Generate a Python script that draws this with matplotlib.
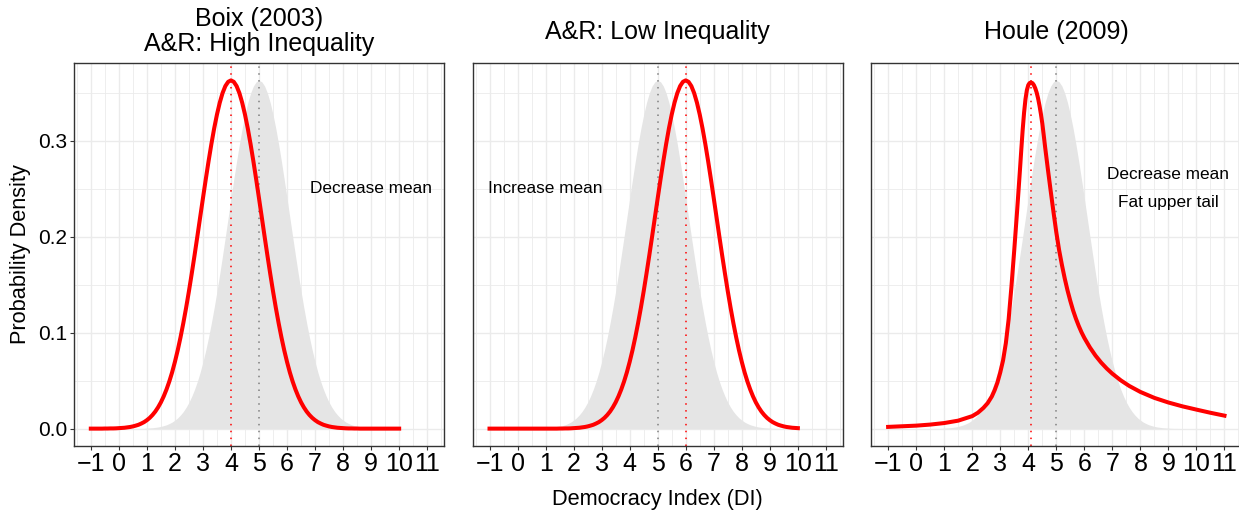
import matplotlib.pyplot as plt
from matplotlib.ticker import MultipleLocator

plt.rcParams['font.family'] = ['Liberation Sans', 'DejaVu Sans']

# Democracy Index grid (-1 to 10, step 0.1) for the bell curves
di = [round(-1 + 0.1 * k, 1) for k in range(111)]

# grey reference density (centred on 5)
baseline = [0, 0, 0, 0, 0, 0, 0, 0, 0, 0, 0, 0, 0, 0, 0,
            .0001, .0001, .0002, .0002, .0003, .0005, .0007, .0009, .0013, .0017,
            .0023, .0031, .0040, .0053, .0068, .0088, .0112, .0142, .0178, .0222,
            .0274, .0336, .0408, .0491, .0586, .0695, .0816, .0951, .1099, .1259,
            .1431, .1614, .1804, .2000, .2200, .2399, .2595, .2784, .2962, .3126,
            .3271, .3395, .3495, .3568, .3612, .3627,
            .3612, .3568, .3495, .3395, .3271, .3126, .2962, .2784, .2595, .2399,
            .2200, .2000, .1804, .1614, .1431, .1259, .1099, .0951, .0816, .0695,
            .0586, .0491, .0408, .0336, .0274, .0222, .0178, .0142, .0112, .0088,
            .0068, .0053, .0040, .0031, .0023, .0017, .0013, .0009, .0007, .0005,
            .0003, .0002, .0002, .0001, .0001,
            0, 0, 0, 0, 0]

# Boix / A&R high inequality (centred on 4)
boix = [0, 0, 0, 0, 0,
        .0001, .0001, .0002, .0002, .0003, .0005, .0007, .0009, .0013, .0017,
        .0023, .0031, .0040, .0053, .0068, .0088, .0112, .0142, .0178, .0222,
        .0274, .0336, .0408, .0491, .0586, .0695, .0816, .0951, .1099, .1259,
        .1431, .1614, .1804, .2000, .2200, .2399, .2595, .2784, .2962, .3126,
        .3271, .3395, .3495, .3568, .3612, .3627,
        .3612, .3568, .3495, .3395, .3271, .3126, .2962, .2784, .2595, .2399,
        .2200, .2000, .1804, .1614, .1431, .1259, .1099, .0951, .0816, .0695,
        .0586, .0491, .0408, .0336, .0274, .0222, .0178, .0142, .0112, .0088,
        .0068, .0053, .0040, .0031, .0023, .0017, .0013, .0009, .0007, .0005,
        .0003, .0002, .0002, .0001, .0001,
        0, 0, 0, 0, 0, 0, 0, 0, 0, 0, 0, 0, 0, 0, 0]

# A&R low inequality (centred on 6)
low_ineq = [0, 0, 0, 0, 0, 0, 0, 0, 0, 0, 0, 0, 0, 0, 0, 0, 0, 0, 0, 0,
            0, 0, 0, 0, 0,
            .0001, .0001, .0002, .0002, .0003, .0005, .0007, .0009, .0013, .0017,
            .0023, .0031, .0040, .0053, .0068, .0088, .0112, .0142, .0178, .0222,
            .0274, .0336, .0408, .0491, .0586, .0695, .0816, .0951, .1099, .1259,
            .1431, .1614, .1804, .2000, .2200, .2399, .2595, .2784, .2962, .3126,
            .3271, .3395, .3495, .3568, .3612, .3627,
            .3612, .3568, .3495, .3395, .3271, .3126, .2962, .2784, .2595, .2399,
            .2200, .2000, .1804, .1614, .1431, .1259, .1099, .0951, .0816, .0695,
            .0586, .0491, .0408, .0336, .0274, .0222, .0178, .0142, .0112, .0088,
            .0068, .0053, .0040, .0031, .0023, .0017, .0013, .0009, .0007, .0005]

# Houle: skewed, fat upper tail
houle_x = [-1.0, 0.0, 0.5, 1.0, 1.5, 2.0, 2.2, 2.4, 2.55, 2.7, 2.8, 2.9, 3.0,
           3.1, 3.2, 3.3, 3.4, 3.5, 3.6, 3.7, 3.75, 3.8, 3.85, 3.9, 3.95, 4.0,
           4.05, 4.1, 4.15, 4.2, 4.25, 4.3, 4.35, 4.4, 4.45, 4.5, 4.55, 4.6,
           4.7, 4.8, 4.9, 5.0, 5.1, 5.2, 5.3, 5.4, 5.5, 5.6, 5.7, 5.8, 5.9,
           6.0, 6.2, 6.4, 6.6, 6.8, 7.0, 7.3, 7.6, 8.0, 8.5, 9.0, 9.5, 10.0,
           10.5, 11.0]
houle_y = [0.0018, 0.0031, 0.0042, 0.0058, 0.0083, 0.0130, 0.0165, 0.0216,
           0.0265, 0.0335, 0.0400, 0.0480, 0.0585, 0.0710, 0.0890, 0.1140,
           0.1480, 0.1860, 0.2260, 0.2680, 0.2900, 0.3110, 0.3290, 0.3430,
           0.3525, 0.3578, 0.3600, 0.3605, 0.3598, 0.3578, 0.3545, 0.3500,
           0.3440, 0.3365, 0.3278, 0.3180, 0.3060, 0.2935, 0.2700, 0.2475,
           0.2255, 0.2045, 0.1860, 0.1705, 0.1565, 0.1440, 0.1330, 0.1230,
           0.1145, 0.1070, 0.1003, 0.0945, 0.0845, 0.0760, 0.0688, 0.0626,
           0.0572, 0.0503, 0.0445, 0.0382, 0.0320, 0.0272, 0.0232, 0.0198,
           0.0165, 0.0135]

titles = ['Boix (2003)\nA&R: High Inequality', 'A&R: Low Inequality', 'Houle (2009)']
curves_x = [di, di, houle_x]
curves_y = [boix, low_ineq, houle_y]
base_mean = 5
new_means = [4, 6, 4.1]
notes = [['Decrease mean'], ['Increase mean'], ['Decrease mean', 'Fat upper tail']]
note_x = [9, 1, 9]
note_y = [[0.25], [0.25], [0.265, 0.235]]

W, H = 1239, 514
fig = plt.figure(figsize=(W / 100, H / 100), dpi=100)
lefts = [74, 472.7, 871.3]
pw, top, bottom = 370, 63, 446

for i in range(3):
    ax = fig.add_axes([lefts[i] / W, 1 - bottom / H, pw / W, (bottom - top) / H])
    ax.fill_between(di, baseline, color='#E5E5E5', lw=0, zorder=1)
    ax.axvline(base_mean, color='#7F7F7F', lw=1.1, ls=(0, (1, 3.5)), zorder=2)
    ax.axvline(new_means[i], color='red', lw=1.1, ls=(0, (1, 3.5)), zorder=2)
    ax.plot(curves_x[i], curves_y[i], color='red', lw=2.9,
            solid_joinstyle='round', zorder=3)
    for txt, ty in zip(notes[i], note_y[i]):
        ax.text(note_x[i], ty, txt, ha='center', va='center', fontsize=12.4)

    ax.set_xlim(-1.6, 11.6)
    ax.set_ylim(-0.0181, 0.3808)
    ax.set_xticks(range(-1, 12))
    ax.set_yticks([0, 0.1, 0.2, 0.3])
    ax.set_yticklabels(['0.0', '0.1', '0.2', '0.3'])
    ax.xaxis.set_minor_locator(MultipleLocator(0.5))
    ax.yaxis.set_minor_locator(MultipleLocator(0.05))
    ax.set_axisbelow(True)
    ax.grid(which='major', color='#EBEBEB', lw=1.0)
    ax.grid(which='minor', color='#EBEBEB', lw=0.6)
    ax.tick_params(which='minor', length=0)
    ax.tick_params(which='major', length=3, width=0.8, color='#333333')
    ax.tick_params(axis='x', labelsize=18, pad=1.5)
    ax.tick_params(axis='y', labelsize=15, pad=2)
    if i > 0:
        ax.tick_params(axis='y', left=False, labelleft=False)
    for sp in ax.spines.values():
        sp.set_color('#333333')
        sp.set_linewidth(1.0)
    ax.text(0.5, 1.082, titles[i], transform=ax.transAxes, ha='center',
            va='center', fontsize=18, linespacing=1.05)

fig.text(657.3 / W, 1 - 499 / H, 'Democracy Index (DI)', ha='center', va='center', fontsize=15.7)
fig.text(21 / W, 1 - 254.5 / H, 'Probability Density', rotation=90,
         ha='center', va='center', fontsize=15.7)

fig.savefig('out.png', dpi=100)
